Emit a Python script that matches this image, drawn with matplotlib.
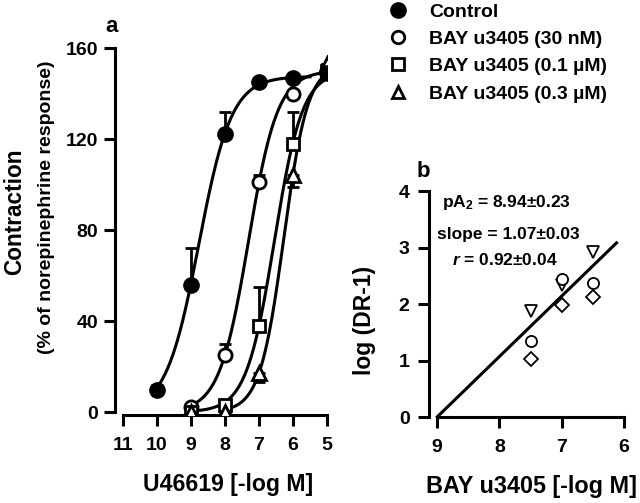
import matplotlib
import numpy as np

matplotlib.use("Agg")
import matplotlib.pyplot as plt
from matplotlib.lines import Line2D

plt.rcParams["font.family"] = ["Liberation Sans", "DejaVu Sans"]
plt.rcParams["font.weight"] = "bold"
plt.rcParams["mathtext.fontset"] = "custom"
plt.rcParams["mathtext.rm"] = "Liberation Sans:bold"
plt.rcParams["mathtext.it"] = "Liberation Sans:bold:italic"
plt.rcParams["mathtext.bf"] = "Liberation Sans:bold"

# panel a: U46619 concentration-response (-log M)
labels = ["Control", "BAY u3405 (30 nM)", "BAY u3405 (0.1 µM)", "BAY u3405 (0.3 µM)"]
x_ctrl = [10, 9, 8, 7, 6, 5]
y_ctrl = [9.5, 56, 122, 145, 147, 149]
err_ctrl_up = [2.5, 16, 10, 0, 0, 0]
x_30 = [9, 8, 7, 6, 5]
y_30 = [2, 25, 101, 140, 150]
err_30_up = [0, 5, 3, 0, 0]
x_01 = [9, 8, 7, 6, 5]
y_01 = [0, 3, 38, 118, 150]
err_01_up = [0, 0, 17, 14, 0]
x_03 = [9, 8, 7, 6, 5]
y_03 = [0, 0, 17, 104, 153]
err_03_dn = [0, 0, 4, 5, 0]

# fitted sigmoid parameters (top, pEC50, hill) and curve ranges
fit_top = [147.5, 150, 150, 153]
fit_pec50 = [8.77, 7.31, 6.55, 6.27]
fit_hill = [0.9, 1.01, 1.05, 1.23]
fit_range = [(10, 5.5), (9, 5), (9, 5), (8, 5)]

# panel b: Schild plot
xb_tri = [7.5, 7.0, 6.5]
yb_tri = [1.87, 2.34, 2.92]
xb_circ = [7.5, 7.0, 6.5]
yb_circ = [1.35, 2.45, 2.38]
xb_diam = [7.5, 7.0, 6.5]
yb_diam = [1.02, 1.99, 2.13]
schild_x0 = 9.0
schild_slope = 1.07
schild_end = 6.12

W, H = 640, 503
fig = plt.figure(figsize=(6.4, 5.03), dpi=100)


def fx(px):
    return px / W


def fy(py):
    return 1 - py / H


# ---------- panel a ----------
ax = fig.add_axes([fx(115), fy(415), 212 / W, 367 / H])
ax.set_xlim(11.235, 5)
ax.set_ylim(-1.3, 160)

for top, p, n, (x1, x2) in zip(fit_top, fit_pec50, fit_hill, fit_range):
    xs = np.linspace(x1, x2, 300)
    ax.plot(xs, top / (1 + 10 ** (n * (xs - p))), color="black", lw=2.2, zorder=2)

ax.errorbar(x_ctrl, y_ctrl, yerr=[[0] * len(x_ctrl), err_ctrl_up], fmt="o",
            color="black", ms=11, elinewidth=2, capsize=4, capthick=2, zorder=5)
ax.errorbar(x_30, y_30, yerr=[[0] * len(x_30), err_30_up], fmt="o", mfc="white",
            mec="black", mew=2, ms=9.5, ecolor="black", elinewidth=2, capsize=4,
            capthick=2, zorder=4)
ax.errorbar(x_01, y_01, yerr=[[0] * len(x_01), err_01_up], fmt="s", mfc="white",
            mec="black", mew=2, ms=8.5, ecolor="black", elinewidth=2, capsize=4,
            capthick=2, zorder=4)
ax.errorbar(x_03, y_03, yerr=[err_03_dn, [0] * len(x_03)], fmt="^", mfc="white",
            mec="black", mew=2, ms=9.5, ecolor="black", elinewidth=2, capsize=4,
            capthick=2, zorder=4)

for s in ["top", "right"]:
    ax.spines[s].set_visible(False)
ax.spines["left"].set_bounds(0, 160)
ax.spines["bottom"].set_bounds(11, 5)
for s in ["left", "bottom"]:
    ax.spines[s].set_linewidth(2.2)
ax.set_xticks([11, 10, 9, 8, 7, 6, 5])
ax.set_yticks([0, 40, 80, 120, 160])
ax.tick_params(width=2.2, length=8, labelsize=14, pad=4)
ax.tick_params(axis="x", pad=8)

fig.text(fx(228), fy(485), "U46619 [-log M]", fontsize=16.6, fontweight="bold",
         ha="center", va="center")
fig.text(fx(15), fy(212), "Contraction", rotation=90, fontsize=16.3,
         fontweight="bold", ha="center", va="center")
fig.text(fx(47), fy(207), "(% of norepinephrine response)", rotation=90,
         fontsize=14, fontweight="bold", ha="center", va="center")
fig.text(fx(112), fy(27), "a", fontsize=16, fontweight="bold",
         ha="center", va="center")

# legend
handles = [
    Line2D([], [], ls="none", marker="o", color="black", ms=11),
    Line2D([], [], ls="none", marker="o", mfc="white", mec="black", mew=2, ms=9),
    Line2D([], [], ls="none", marker="s", mfc="white", mec="black", mew=2, ms=8),
    Line2D([], [], ls="none", marker="^", mfc="white", mec="black", mew=2, ms=9),
]
fig.legend(handles, labels, loc="upper left", bbox_to_anchor=(fx(386), fy(3)),
           frameon=False, fontsize=14, handlelength=1.2, handletextpad=1.0,
           labelspacing=0.5, borderaxespad=0, borderpad=0)

# ---------- panel b ----------
bx = fig.add_axes([fx(429), fy(417), 195 / W, 226 / H])
bx.set_xlim(9.13, 6)
bx.set_ylim(0, 4)
xl = np.array([schild_x0, schild_end])
bx.plot(xl, schild_slope * (schild_x0 - xl), color="black", lw=2.2, zorder=2)
bx.plot(xb_tri, yb_tri, "v", mfc="white", mec="black", mew=1.3, ms=9, ls="none", zorder=3)
bx.plot(xb_circ, yb_circ, "o", mfc="white", mec="black", mew=1.3, ms=8, ls="none", zorder=3)
bx.plot(xb_diam, yb_diam, "D", mfc="white", mec="black", mew=1.3, ms=7.5, ls="none", zorder=3)

for s in ["top", "right"]:
    bx.spines[s].set_visible(False)
bx.spines["left"].set_bounds(0, 4)
bx.spines["bottom"].set_bounds(9, 6)
for s in ["left", "bottom"]:
    bx.spines[s].set_linewidth(2.2)
bx.set_xticks([9, 8, 7, 6])
bx.set_yticks([0, 1, 2, 3, 4])
bx.tick_params(width=2.2, length=8, labelsize=14, pad=6)
bx.tick_params(axis="x", pad=8)

fig.text(fx(532), fy(487), "BAY u3405 [-log M]", fontsize=16.8, fontweight="bold",
         ha="center", va="center")
fig.text(fx(365), fy(320), "log (DR-1)", rotation=90, fontsize=16.5,
         fontweight="bold", ha="center", va="center")
fig.text(fx(423), fy(172), "b", fontsize=16, fontweight="bold",
         ha="center", va="center")

fig.text(fx(506), fy(202), "pA$_2$ = 8.94±0.23", fontsize=12.5,
         fontweight="bold", ha="center", va="center")
fig.text(fx(508), fy(234), "slope = 1.07±0.03", fontsize=12.5,
         fontweight="bold", ha="center", va="center")
fig.text(fx(505), fy(260), "$r$ = 0.92±0.04", fontsize=12.5,
         fontweight="bold", ha="center", va="center")

fig.savefig("out.png", dpi=100)
